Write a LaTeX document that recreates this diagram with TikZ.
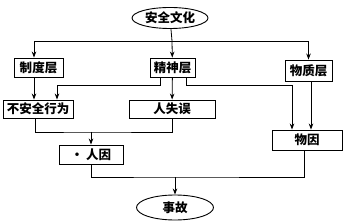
\documentclass[tikz,border=0pt]{standalone}
\usepackage{fontspec}
\newfontfamily\cjk{Noto Sans CJK SC}
\usetikzlibrary{shapes.geometric, arrows.meta, positioning, calc}
\tikzset{
  base/.style   = {draw=black, line width=0.9pt, align=center, inner sep=0pt,
                   font=\cjk\bfseries\fontsize{12.5}{14}\selectfont},
  topic/.style  = {base, ellipse, minimum width=76pt, minimum height=21pt},
  layer/.style  = {base, rectangle, minimum height=19pt},
  arr/.style    = {-{Stealth[length=6pt, width=4.5pt]}, line width=0.8pt},
  link/.style   = {line width=0.8pt},
}
\begin{document}
\begin{tikzpicture}[x=1pt, y=-1pt]
  \useasboundingbox (0,0) rectangle (350,224);
  \node[topic] (culture) at (170,18) {安全文化};
  \node[layer, minimum width=49pt] (sys)    at (38.5,67.5) {制度层};
  \node[layer, minimum width=45pt] (spirit) at (172.5,67.5) {精神层};
  \node[layer, minimum width=47pt, minimum height=21pt] (matter) at (308.5,70.5) {物质层};
  \node[layer, minimum width=70pt, minimum height=18pt] (unsafe) at (38,109) {不安全行为};
  \node[layer, minimum width=86pt, minimum height=18pt] (error)  at (172,109) {人失误};
  \node[layer, minimum width=64pt] (human) at (91,154.5) {· 人因};
  \node[layer, minimum width=70pt, minimum height=20pt] (phys) at (307,140) {物因};
  \node[topic, minimum width=77pt, minimum height=25pt] (accident) at (175,207.5) {事故};

  % junctions of the branch and merge lines
  \coordinate (bus) at (172,41);
  \coordinate (lft) at (57,85);
  \coordinate (rgt) at (292,85);
  \coordinate (m1)  at (91,132);
  \coordinate (m2)  at (175,177);

  \draw[link] (culture) -- (bus);
  \draw[arr] (bus) -| ([xshift=-4.5pt]sys.north);
  \draw[arr] (bus) -- (spirit);
  \draw[arr] (bus) -| (matter);
  \draw[arr] ([xshift=-4.5pt]sys.south) -- ([xshift=-4pt]unsafe.north);
  \draw[arr] ([xshift=-12.5pt]spirit.south) |- (lft) -- (lft |- unsafe.north);
  \draw[arr] (spirit) -- (error);
  \draw[arr] ([xshift=13.5pt]spirit.south) |- (rgt) -- (rgt |- phys.north);
  \draw[arr] ([xshift=2.5pt]matter.south) -- ([xshift=4pt]phys.north);
  \draw[link] ([xshift=-3pt]unsafe.south) |- (m1) -| (error.south);
  \draw[arr] (m1) -- (human);
  \draw[link] (human) |- (m2) -| ([xshift=-3pt]phys.south);
  \draw[arr] (m2) -- (accident);
\end{tikzpicture}
\end{document}
